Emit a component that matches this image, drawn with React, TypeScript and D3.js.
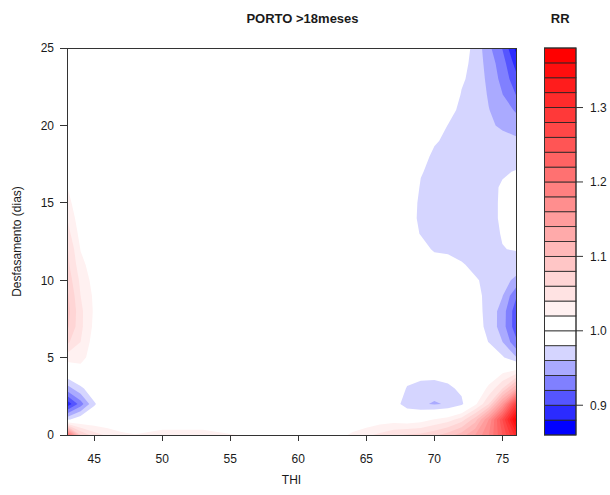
import React from "react";
import * as d3 from "d3";

// THI grid columns (non-uniform spacing) and lag rows (days)
const thiValues = [43, 44, 45, 46, 47, 48, 50, 53, 56, 60, 63, 64, 65, 66, 67, 68, 69, 70, 71, 72, 73, 74, 75, 76];
const lagValues = [0, 1, 2, 3, 4, 5, 6, 7, 8, 9, 10, 11, 12, 13, 14, 15, 16, 17, 18, 19, 20, 21, 22, 23, 24, 25];

// Relative risk surface, one row per lag (lag 0 first), one value per THI column
const rrRows: number[][] = [
  [1.22, 1.08, 1.05, 1.035, 1.025, 1.021, 1.03, 1.03, 1.018, 1.01, 1.012, 1.025, 1.035, 1.045, 1.055, 1.062, 1.065, 1.075, 1.09, 1.11, 1.14, 1.18, 1.24, 1.31],
  [0.975, 0.995, 1, 1, 1, 1, 1, 1, 1, 1, 1, 1, 1.003, 1.008, 1.01, 1.005, 1.01, 1.021, 1.03, 1.05, 1.09, 1.16, 1.26, 1.37],
  [0.885, 0.93, 0.977, 1, 1, 1, 1, 1, 1, 1, 1, 1, 1, 1, 0.99, 0.97, 0.963, 0.958, 0.962, 0.975, 1.015, 1.06, 1.15, 1.28],
  [0.95, 0.975, 0.995, 1, 1, 1, 1, 1, 1, 1, 1, 1, 1, 1, 1, 0.978, 0.97, 0.968, 0.975, 0.985, 1, 1.025, 1.06, 1.12],
  [0.995, 1.005, 1, 1, 1, 1, 1, 1, 1, 1, 1, 1, 1, 1, 1, 0.99, 0.99, 0.99, 0.99, 1, 1, 1.005, 1.019, 1.035],
  [1.03, 1.03, 1.005, 1, 1, 1, 1, 1, 1, 1, 1, 1, 1, 1, 1, 1, 1, 1, 1, 1, 1, 0.995, 0.983, 0.962],
  [1.065, 1.04, 1.01, 1, 1, 1, 1, 1, 1, 1, 1, 1, 1, 1, 1, 1, 1, 1, 1, 1, 0.99, 0.9795, 0.9605, 0.925],
  [1.085, 1.045, 1.015, 1, 1, 1, 1, 1, 1, 1, 1, 1, 1, 1, 1, 1, 1, 1, 1, 1, 0.988, 0.975, 0.95, 0.908],
  [1.09, 1.045, 1.017, 1, 1, 1, 1, 1, 1, 1, 1, 1, 1, 1, 1, 1, 1, 1, 1, 1, 0.987, 0.974, 0.951, 0.908],
  [1.085, 1.04, 1.016, 1, 1, 1, 1, 1, 1, 1, 1, 1, 1, 1, 1, 1, 1, 1, 1, 1, 0.986, 0.974, 0.961, 0.923],
  [1.075, 1.035, 1.012, 1, 1, 1, 1, 1, 1, 1, 1, 1, 1, 1, 1, 1, 1, 1, 1, 0.995, 0.982, 0.975, 0.968, 0.955],
  [1.067, 1.027, 1.008, 1, 1, 1, 1, 1, 1, 1, 1, 1, 1, 1, 1, 1, 1, 1, 0.995, 0.982, 0.975, 0.974, 0.973, 0.972],
  [1.063, 1.019, 1.005, 1, 1, 1, 1, 1, 1, 1, 1, 1, 1, 1, 1, 1, 0.995, 0.975, 0.973, 0.972, 0.972, 0.974, 0.9795, 0.981],
  [1.05, 1.012, 1.003, 1, 1, 1, 1, 1, 1, 1, 1, 1, 1, 1, 1, 0.998, 0.978, 0.974, 0.972, 0.971, 0.971, 0.975, 0.981, 0.99],
  [1.04, 1.006, 1, 1, 1, 1, 1, 1, 1, 1, 1, 1, 1, 1, 1, 0.9917, 0.975, 0.972, 0.971, 0.97, 0.97, 0.974, 0.983, 0.992],
  [1.03, 1, 1, 1, 1, 1, 1, 1, 1, 1, 1, 1, 1, 1, 1, 0.995, 0.975, 0.972, 0.971, 0.97, 0.971, 0.974, 0.983, 0.992],
  [1.0205, 1, 1, 1, 1, 1, 1, 1, 1, 1, 1, 1, 1, 1, 1, 0.998, 0.978, 0.975, 0.973, 0.972, 0.972, 0.975, 0.982, 0.99],
  [1.01, 1, 1, 1, 1, 1, 1, 1, 1, 1, 1, 1, 1, 1, 1, 1, 0.9813, 0.975, 0.974, 0.973, 0.973, 0.974, 0.978, 0.981],
  [1.004, 1, 1, 1, 1, 1, 1, 1, 1, 1, 1, 1, 1, 1, 1, 1, 0.9893, 0.975, 0.974, 0.973, 0.972, 0.971, 0.972, 0.972],
  [1, 1, 1, 1, 1, 1, 1, 1, 1, 1, 1, 1, 1, 1, 1, 1, 1, 0.9827, 0.975, 0.973, 0.971, 0.969, 0.966, 0.9635],
  [1, 1, 1, 1, 1, 1, 1, 1, 1, 1, 1, 1, 1, 1, 1, 1, 1, 0.99, 0.9795, 0.974, 0.969, 0.963, 0.957, 0.952],
  [1, 1, 1, 1, 1, 1, 1, 1, 1, 1, 1, 1, 1, 1, 1, 1, 1, 1, 0.9875, 0.975, 0.97, 0.9605, 0.952, 0.937],
  [1, 1, 1, 1, 1, 1, 1, 1, 1, 1, 1, 1, 1, 1, 1, 1, 1, 1, 0.992, 0.979, 0.972, 0.958, 0.9405, 0.9195],
  [1, 1, 1, 1, 1, 1, 1, 1, 1, 1, 1, 1, 1, 1, 1, 1, 1, 1, 1, 0.982, 0.975, 0.954, 0.934, 0.907],
  [1, 1, 1, 1, 1, 1, 1, 1, 1, 1, 1, 1, 1, 1, 1, 1, 1, 1, 1, 0.985, 0.975, 0.95, 0.93, 0.892],
  [1, 1, 1, 1, 1, 1, 1, 1, 1, 1, 1, 1, 1, 1, 1, 1, 1, 1, 1, 0.989, 0.975, 0.945, 0.919, 0.875],
];

// Contour break points for the filled bands
const rrLevels = [
  0.86, 0.88, 0.9, 0.92, 0.94, 0.96, 0.98, 1.0, 1.02, 1.04, 1.06, 1.08, 1.1, 1.12,
  1.14, 1.16, 1.18, 1.2, 1.22, 1.24, 1.26, 1.28, 1.3, 1.32, 1.34, 1.36, 1.38,
];

const xTicks = [45, 50, 55, 60, 65, 70, 75];
const yTicks = [0, 5, 10, 15, 20, 25];
const keyTicks = [0.9, 1.0, 1.1, 1.2, 1.3];

const titleText = "PORTO >18meses";
const keyTitle = "RR";
const xLabel = "THI";
const yLabel = "Desfasamento (dias)";

// Band colours: blue -> white below 1, white -> red above 1
const nBelow = rrLevels.filter((l) => l < 1).length;
const nAbove = rrLevels.filter((l) => l > 1).length;
const blueRamp = d3.interpolateRgb("#0000ff", "#ffffff");
const redRamp = d3.interpolateRgb("#ffffff", "#ff0000");
const bandColors = [
  ...d3.range(nBelow).map((i) => blueRamp(i / (nBelow - 1))),
  ...d3.range(nAbove).map((i) => redRamp(i / (nAbove - 1))),
];

const W = 610;
const H = 495;
const plot = { left: 67, right: 516, top: 48, bottom: 435 };
const key = { left: 544.5, right: 576, top: 48, bottom: 435 };
const FONT = "'Liberation Sans', Arial, sans-serif";
const INK = "#1a1a1a";

// grid coordinate from d3.contours (cell centres at i + 0.5) -> data value
function gridToValue(c: number, arr: number[]): number {
  const p = Math.max(0, Math.min(arr.length - 1, c - 0.5));
  const i = Math.min(arr.length - 2, Math.floor(p));
  const f = p - i;
  return arr[i] + f * (arr[i + 1] - arr[i]);
}

export default function App() {
  const x = d3.scaleLinear().domain([43, 76]).range([plot.left, plot.right]);
  const y = d3.scaleLinear().domain([0, 25]).range([plot.bottom, plot.top]);
  const ky = d3.scaleLinear().domain([rrLevels[0], rrLevels[rrLevels.length - 1]]).range([key.bottom, key.top]);

  const n = thiValues.length;
  const m = lagValues.length;
  const flat = rrRows.flat();
  const contours = d3.contours().size([n, m]).thresholds(rrLevels.slice(0, -1))(flat);

  const toPath = (coords: number[][][][]) =>
    coords
      .map((poly) =>
        poly
          .map(
            (ring) =>
              "M" +
              ring
                .map(([cx, cy]) => `${x(gridToValue(cx, thiValues)).toFixed(2)},${y(gridToValue(cy, lagValues)).toFixed(2)}`)
                .join("L") +
              "Z"
          )
          .join("")
      )
      .join("");

  return (
    <svg
      width={W}
      height={H}
      viewBox={`0 0 ${W} ${H}`}
      style={{ position: "absolute", left: 0, top: 0, background: "#fff", display: "block" }}
    >
      <rect x={0} y={0} width={W} height={H} fill="#fff" />
      {/* filled contour bands */}
      <g>
        {contours.map((c, i) => (
          <path key={i} d={toPath(c.coordinates as any)} fill={bandColors[rrLevels.indexOf(c.value)]} stroke="none" />
        ))}
      </g>

      {/* plot frame */}
      <rect
        x={plot.left}
        y={plot.top}
        width={plot.right - plot.left}
        height={plot.bottom - plot.top}
        fill="none"
        stroke="#333"
        strokeWidth={1}
        shapeRendering="crispEdges"
      />

      {/* axes */}
      <g fontFamily={FONT} fontSize={12} fill={INK}>
        {xTicks.map((t) => (
          <g key={t}>
            <line x1={x(t)} x2={x(t)} y1={plot.bottom} y2={plot.bottom + 6} stroke="#333" shapeRendering="crispEdges" />
            <text x={x(t)} y={463} textAnchor="middle">
              {t}
            </text>
          </g>
        ))}
        {yTicks.map((t) => (
          <g key={t}>
            <line x1={plot.left - 7} x2={plot.left} y1={y(t)} y2={y(t)} stroke="#333" shapeRendering="crispEdges" />
            <text x={54} y={y(t) + 4.3} textAnchor="end">
              {t}
            </text>
          </g>
        ))}
        <text x={(plot.left + plot.right) / 2} y={484} textAnchor="middle">
          {xLabel}
        </text>
        <text
          transform={`translate(21,${(plot.top + plot.bottom) / 2}) rotate(-90)`}
          textAnchor="middle"
        >
          {yLabel}
        </text>
      </g>

      {/* titles */}
      <g fontFamily={FONT} fontWeight="bold" fontSize={13} fill={INK}>
        <text x={302.5} y={23} textAnchor="middle">
          {titleText}
        </text>
        <text x={(key.left + key.right) / 2} y={23} textAnchor="middle">
          {keyTitle}
        </text>
      </g>

      {/* colour key */}
      <g>
        {bandColors.map((col, i) => (
          <rect
            key={i}
            x={key.left}
            y={ky(rrLevels[i + 1])}
            width={key.right - key.left}
            height={ky(rrLevels[i]) - ky(rrLevels[i + 1])}
            fill={col}
            stroke="#222"
            strokeWidth={0.8}
          />
        ))}
        <rect
          x={key.left}
          y={key.top}
          width={key.right - key.left}
          height={key.bottom - key.top}
          fill="none"
          stroke="#333"
          strokeWidth={1}
        />
        <g fontFamily={FONT} fontSize={12} fill={INK}>
          {keyTicks.map((t) => (
            <g key={t}>
              <line x1={key.right} x2={key.right + 7} y1={ky(t)} y2={ky(t)} stroke="#333" />
              <text x={590} y={ky(t) + 4.3}>
                {t.toFixed(1)}
              </text>
            </g>
          ))}
        </g>
      </g>
    </svg>
  );
}
